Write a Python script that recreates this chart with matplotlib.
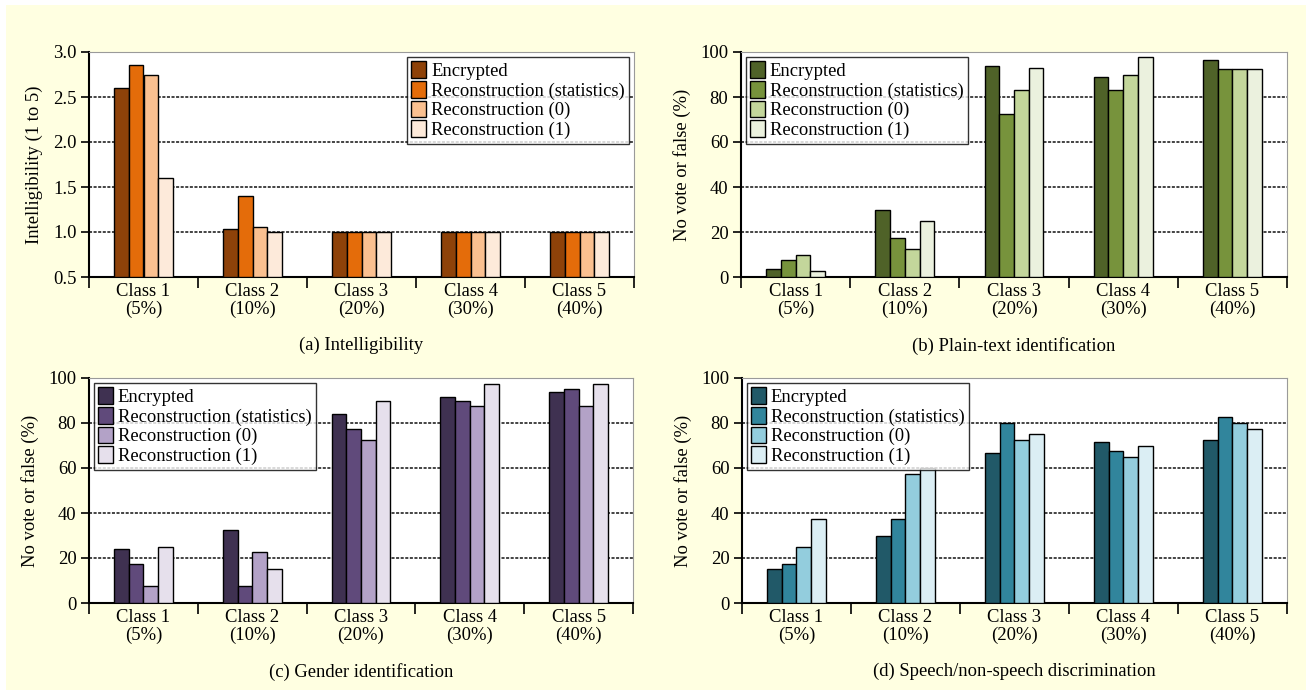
import numpy as np
import matplotlib
matplotlib.use("Agg")
from matplotlib import pyplot as plt
from matplotlib.patches import Rectangle

plt.rcParams["font.family"] = ["Liberation Serif", "DejaVu Serif"]

classes = ["Class 1\n(5%)", "Class 2\n(10%)", "Class 3\n(20%)", "Class 4\n(30%)", "Class 5\n(40%)"]
series = ["Encrypted", "Reconstruction (statistics)", "Reconstruction (0)", "Reconstruction (1)"]

# (a) intelligibility, mean score 1..5
intel_enc = [2.6, 1.03, 1.0, 1.0, 1.0]
intel_stat = [2.85, 1.4, 1.0, 1.0, 1.0]
intel_r0 = [2.75, 1.06, 1.0, 1.0, 1.0]
intel_r1 = [1.6, 1.0, 1.0, 1.0, 1.0]

# (b) plain-text identification, % no vote or false
plain_enc = [3.5, 30, 94, 89, 96.5]
plain_stat = [7.5, 17.5, 72.5, 83, 92.5]
plain_r0 = [10, 12.5, 83, 90, 92.5]
plain_r1 = [2.5, 25, 93, 98, 92.5]

# (c) gender identification
gender_enc = [24, 32.5, 84, 91.5, 94]
gender_stat = [17.5, 7.5, 77.5, 90, 95]
gender_r0 = [7.5, 22.5, 72.5, 87.5, 87.5]
gender_r1 = [25, 15, 90, 97.5, 97.5]

# (d) speech/non-speech discrimination
speech_enc = [15, 30, 66.5, 71.5, 72.5]
speech_stat = [17.5, 37.5, 80, 67.5, 82.5]
speech_r0 = [25, 57.5, 72.5, 65, 80]
speech_r1 = [37.5, 60, 75, 70, 77.5]

FS = 13.4
W, H = 1306, 690
fig = plt.figure(figsize=(W / 100, H / 100), dpi=100, facecolor="white")
fig.patches.append(Rectangle((6 / W, 0), 1, 1 - 5 / H, transform=fig.transFigure,
                             facecolor="#FFFFE1", edgecolor="none", zorder=-10))


def px_axes(left, top, right, bottom):
    return fig.add_axes([left / W, 1 - bottom / H, (right - left) / W, (bottom - top) / H])


def draw_panel(ax, data, colors, ylim, yticks, ylabel, title, legend_loc, fmt=None):
    n = len(classes)
    x = np.arange(n) + 0.5
    bw = 0.135
    offsets = (np.arange(len(data)) - 1.5) * bw
    for vals, off, col, name in zip(data, offsets, colors, series):
        ax.bar(x + off, np.array(vals) - ylim[0], bw, bottom=ylim[0], color=col,
               edgecolor="black", linewidth=1.0, label=name, zorder=3)
    ax.set_xlim(0, n)
    ax.set_ylim(*ylim)
    ax.set_yticks(yticks)
    if fmt:
        ax.set_yticklabels([fmt % t for t in yticks])
    for t in yticks[1:]:
        ax.axhline(t, color="#111111", linewidth=1.1, linestyle=(0, (2, 1)), zorder=1)
    ax.set_xticks(np.arange(n + 1))
    ax.set_xticklabels([])
    ax.set_xticks(x, minor=True)
    ax.set_xticklabels(classes, minor=True, fontsize=FS, linespacing=1.12)
    ax.tick_params(axis="x", which="major", length=8, width=1.2, direction="out")
    ax.tick_params(axis="x", which="minor", length=0, pad=4)
    ax.tick_params(axis="y", length=6, width=1.2, direction="out", labelsize=FS, pad=3)
    for s in ("left", "bottom"):
        ax.spines[s].set_linewidth(1.5)
        ax.spines[s].set_color("black")
    for s in ("top", "right"):
        ax.spines[s].set_linewidth(0.8)
        ax.spines[s].set_color("#9A9A9A")
    ax.set_ylabel(ylabel, fontsize=FS, labelpad=7)
    ax.text(0.5, -0.305, title, transform=ax.transAxes, ha="center", va="center", fontsize=FS)
    leg = ax.legend(loc=legend_loc, fontsize=FS, frameon=True, fancybox=False,
                    handlelength=0.8, handleheight=1.0, handletextpad=0.25,
                    labelspacing=0.05, borderpad=0.25, borderaxespad=0.25)
    leg.get_frame().set_edgecolor("black")
    leg.get_frame().set_linewidth(1.0)
    leg.set_zorder(5)


ax_a = px_axes(89, 52, 634, 277)
draw_panel(ax_a, [intel_enc, intel_stat, intel_r0, intel_r1],
           ["#8E4209", "#E46C0A", "#FAC090", "#FDEADA"],
           (0.5, 3.0), [0.5, 1.0, 1.5, 2.0, 2.5, 3.0], "Intelligibility (1 to 5)",
           "(a) Intelligibility", "upper right", fmt="%.1f")

ax_b = px_axes(741, 52, 1287, 277)
draw_panel(ax_b, [plain_enc, plain_stat, plain_r0, plain_r1],
           ["#4F6228", "#77933C", "#C3D69B", "#EBF1DE"],
           (0, 100), [0, 20, 40, 60, 80, 100], "No vote or false (%)",
           "(b) Plain-text identification", "upper left")

ax_c = px_axes(89, 378, 633, 603)
draw_panel(ax_c, [gender_enc, gender_stat, gender_r0, gender_r1],
           ["#3F3151", "#604A7B", "#B3A2C7", "#E6E0EC"],
           (0, 100), [0, 20, 40, 60, 80, 100], "No vote or false (%)",
           "(c) Gender identification", "upper left")

ax_d = px_axes(742, 378, 1287, 603)
draw_panel(ax_d, [speech_enc, speech_stat, speech_r0, speech_r1],
           ["#215968", "#31859C", "#93CDDD", "#DBEEF4"],
           (0, 100), [0, 20, 40, 60, 80, 100], "No vote or false (%)",
           "(d) Speech/non-speech discrimination", "upper left")

fig.savefig("out.png", dpi=100, facecolor=fig.get_facecolor())
